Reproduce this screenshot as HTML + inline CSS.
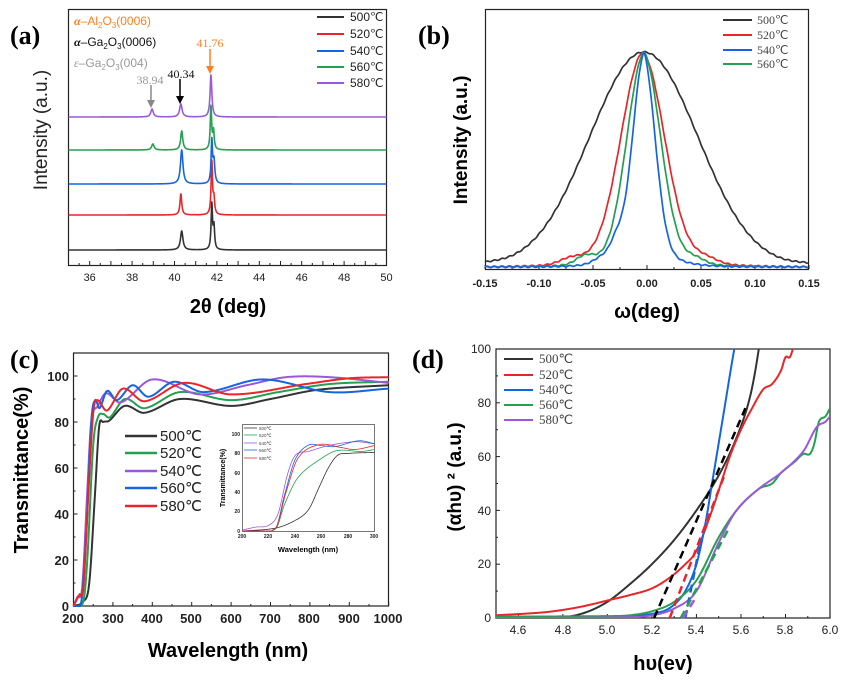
<!DOCTYPE html>
<html><head><meta charset="utf-8"><style>
html,body{margin:0;padding:0;background:#fff;}
svg{display:block;}
.s{font-family:"Liberation Sans",sans-serif;}
.r{font-family:"Liberation Serif",serif;}
</style></head><body>
<svg id="g" width="867" height="692" viewBox="0 0 867 692" xmlns="http://www.w3.org/2000/svg">
<!-- Panel a -->
<text x="10" y="44" class="r" font-size="26" font-weight="bold">(a)</text>
<rect x="68.5" y="9.5" width="318" height="256" fill="none" stroke="#222" stroke-width="1.2"/>
<g class="s" font-size="11" text-anchor="middle" fill="#222">
<text x="89.7" y="281">36</text><text x="132.1" y="281">38</text><text x="174.5" y="281">40</text><text x="216.9" y="281">42</text><text x="259.3" y="281">44</text><text x="301.7" y="281">46</text><text x="344.1" y="281">48</text><text x="386.5" y="281">50</text>
</g>
<text x="228" y="313" class="s" font-size="20" font-weight="bold" text-anchor="middle">2θ (deg)</text>
<text transform="translate(47,130) rotate(-90)" class="s" font-size="19" text-anchor="middle" fill="#222">Intensity (a.u.)</text>
<text x="74" y="25" class="s" font-size="12" fill="#ff8020"><tspan font-family="Liberation Serif" font-style="italic" font-weight="bold">α</tspan>–Al<tspan font-size="8" dy="3">2</tspan><tspan dy="-3">O</tspan><tspan font-size="8" dy="3">3</tspan><tspan dy="-3">(0006)</tspan></text>
<text x="74" y="46" class="s" font-size="12" fill="#111"><tspan font-family="Liberation Serif" font-style="italic" font-weight="bold">α</tspan>–Ga<tspan font-size="8" dy="3">2</tspan><tspan dy="-3">O</tspan><tspan font-size="8" dy="3">3</tspan><tspan dy="-3">(0006)</tspan></text>
<text x="74" y="67" class="s" font-size="12" fill="#999"><tspan font-family="Liberation Serif" font-style="italic">ε</tspan>–Ga<tspan font-size="8" dy="3">2</tspan><tspan dy="-3">O</tspan><tspan font-size="8" dy="3">3</tspan><tspan dy="-3">(004)</tspan></text>
<text x="150" y="84" class="r" font-size="12" fill="#999" text-anchor="middle">38.94</text>
<text x="181" y="78" class="r" font-size="12" fill="#111" text-anchor="middle">40.34</text>
<text x="210" y="47" class="r" font-size="12" fill="#ff8020" text-anchor="middle">41.76</text>
<g stroke-width="1.5"><line x1="151" y1="85" x2="151" y2="103" stroke="#888"/><polygon points="147,100 155,100 151,108" fill="#888"/>
<line x1="180" y1="79" x2="180" y2="99" stroke="#000"/><polygon points="176,96 184,96 180,104" fill="#000"/>
<line x1="210" y1="49" x2="210" y2="69" stroke="#ff8020"/><polygon points="206,66 214,66 210,74" fill="#ff8020"/></g>
<g class="s" font-size="12" fill="#222">
<line x1="317" y1="17" x2="344" y2="17" stroke="#333" stroke-width="2"/><text x="350" y="21">500℃</text>
<line x1="317" y1="34" x2="344" y2="34" stroke="#e8262a" stroke-width="2"/><text x="350" y="38">520℃</text>
<line x1="317" y1="51" x2="344" y2="51" stroke="#1565e0" stroke-width="2"/><text x="350" y="55">540℃</text>
<line x1="317" y1="67" x2="344" y2="67" stroke="#24a050" stroke-width="2"/><text x="350" y="71">560℃</text>
<line x1="317" y1="83" x2="344" y2="83" stroke="#9b59d9" stroke-width="2"/><text x="350" y="87">580℃</text>
</g>
<g id="pa"></g>

<!-- Panel b -->
<rect x="485.5" y="9.5" width="323" height="260" fill="none" stroke="#222" stroke-width="1.2"/>
<text x="418" y="44" class="r" font-size="26" font-weight="bold">(b)</text>
<g class="s" font-size="11" font-weight="bold" text-anchor="middle" fill="#222">
<text x="485" y="287">-0.15</text><text x="539" y="287">-0.10</text><text x="593" y="287">-0.05</text><text x="647" y="287">0.00</text><text x="701" y="287">0.05</text><text x="755" y="287">0.10</text><text x="809" y="287">0.15</text>
</g>
<text x="647" y="318" class="s" font-size="20" font-weight="bold" text-anchor="middle">ω(deg)</text>
<text transform="translate(467,140) rotate(-90)" class="s" font-size="19" font-weight="bold" text-anchor="middle">Intensity (a.u.)</text>
<g class="r" font-size="12" fill="#444">
<line x1="723" y1="20" x2="752" y2="20" stroke="#333" stroke-width="2"/><text x="757" y="24">500℃</text>
<line x1="723" y1="35" x2="752" y2="35" stroke="#e8262a" stroke-width="2"/><text x="757" y="39">520℃</text>
<line x1="723" y1="50" x2="752" y2="50" stroke="#1565e0" stroke-width="2"/><text x="757" y="54">540℃</text>
<line x1="723" y1="64" x2="752" y2="64" stroke="#24a050" stroke-width="2"/><text x="757" y="68">560℃</text>
</g>
<g id="pb"></g>

<!-- Panel c -->
<text x="10" y="368" class="r" font-size="26" font-weight="bold">(c)</text>
<rect x="73.5" y="353" width="315" height="253" fill="none" stroke="#222" stroke-width="1.2"/>
<g class="s" font-size="13" font-weight="bold" text-anchor="end" fill="#222">
<text x="69" y="381">100</text><text x="69" y="427">80</text><text x="69" y="473">60</text><text x="69" y="519">40</text><text x="69" y="565">20</text><text x="69" y="611">0</text>
</g>
<g class="s" font-size="13" font-weight="bold" text-anchor="middle" fill="#222">
<text x="73" y="623">200</text><text x="113" y="623">300</text><text x="152" y="623">400</text><text x="191" y="623">500</text><text x="231" y="623">600</text><text x="270" y="623">700</text><text x="309" y="623">800</text><text x="349" y="623">900</text><text x="388" y="623">1000</text>
</g>
<text x="228" y="657" class="s" font-size="20" font-weight="bold" text-anchor="middle">Wavelength (nm)</text>
<text transform="translate(28,470) rotate(-90)" class="s" font-size="20" font-weight="bold" text-anchor="middle">Transmittance(%)</text>
<g class="s" font-size="15" fill="#222">
<line x1="125" y1="436" x2="157" y2="436" stroke="#333" stroke-width="2.5"/><text x="160" y="441">500℃</text>
<line x1="125" y1="453" x2="157" y2="453" stroke="#24a050" stroke-width="2.5"/><text x="160" y="458">520℃</text>
<line x1="125" y1="471" x2="157" y2="471" stroke="#9b59d9" stroke-width="2.5"/><text x="160" y="476">540℃</text>
<line x1="125" y1="488" x2="157" y2="488" stroke="#1565e0" stroke-width="2.5"/><text x="160" y="493">560℃</text>
<line x1="125" y1="506" x2="157" y2="506" stroke="#e8262a" stroke-width="2.5"/><text x="160" y="511">580℃</text>
</g>
<rect x="242.5" y="424.5" width="132" height="107" fill="#fff" stroke="#555" stroke-width="0.8"/>
<g class="s" font-size="5" font-weight="bold" text-anchor="end" fill="#222">
<text x="240" y="436">100</text><text x="240" y="455">80</text><text x="240" y="475">60</text><text x="240" y="494">40</text><text x="240" y="513">20</text><text x="240" y="533">0</text>
</g>
<g class="s" font-size="5" font-weight="bold" text-anchor="middle" fill="#222">
<text x="242" y="538">200</text><text x="268" y="538">220</text><text x="295" y="538">240</text><text x="321" y="538">260</text><text x="348" y="538">280</text><text x="374" y="538">300</text>
</g>
<text x="308" y="552" class="s" font-size="7.5" font-weight="bold" text-anchor="middle">Wavelength (nm)</text>
<text transform="translate(225,478) rotate(-90)" class="s" font-size="7" font-weight="bold" text-anchor="middle">Transmittance(%)</text>
<g class="s" font-size="4.5" fill="#444">
<line x1="244" y1="428" x2="257" y2="428" stroke="#333" stroke-width="0.8"/><text x="259" y="430">500℃</text>
<line x1="244" y1="435" x2="257" y2="435" stroke="#24a050" stroke-width="0.8"/><text x="259" y="437">520℃</text>
<line x1="244" y1="443" x2="257" y2="443" stroke="#9b59d9" stroke-width="0.8"/><text x="259" y="445">540℃</text>
<line x1="244" y1="450" x2="257" y2="450" stroke="#1565e0" stroke-width="0.8"/><text x="259" y="452">560℃</text>
<line x1="244" y1="458" x2="257" y2="458" stroke="#e8262a" stroke-width="0.8"/><text x="259" y="460">580℃</text>
</g>
<g id="pc"></g>

<!-- Panel d -->
<text x="412" y="368" class="r" font-size="26" font-weight="bold">(d)</text>
<rect x="496" y="349" width="334" height="269" fill="none" stroke="#222" stroke-width="1.2"/>
<g class="s" font-size="12" text-anchor="end" fill="#222">
<text x="491" y="353">100</text><text x="491" y="407">80</text><text x="491" y="461">60</text><text x="491" y="515">40</text><text x="491" y="568">20</text><text x="491" y="622">0</text>
</g>
<g class="s" font-size="12" text-anchor="middle" fill="#222">
<text x="518" y="634">4.6</text><text x="563" y="634">4.8</text><text x="607" y="634">5.0</text><text x="652" y="634">5.2</text><text x="696" y="634">5.4</text><text x="741" y="634">5.6</text><text x="785" y="634">5.8</text><text x="830" y="634">6.0</text>
</g>
<text x="663" y="670" class="s" font-size="20" font-weight="bold" text-anchor="middle">hυ(ev)</text>
<text transform="translate(461,477) rotate(-90)" class="s" font-size="19" font-weight="bold" text-anchor="middle">(αhυ) ² (a.u.)</text>
<g class="r" font-size="13" fill="#444">
<line x1="504" y1="359" x2="533" y2="359" stroke="#333" stroke-width="2"/><text x="539" y="363">500℃</text>
<line x1="504" y1="375" x2="533" y2="375" stroke="#e8262a" stroke-width="2"/><text x="539" y="379">520℃</text>
<line x1="504" y1="390" x2="533" y2="390" stroke="#1565e0" stroke-width="2"/><text x="539" y="394">540℃</text>
<line x1="504" y1="405" x2="533" y2="405" stroke="#24a050" stroke-width="2"/><text x="539" y="409">560℃</text>
<line x1="504" y1="420" x2="533" y2="420" stroke="#9b59d9" stroke-width="2"/><text x="539" y="424">580℃</text>
</g>
<g id="pd"></g>
</svg>
<script>
var NS="http://www.w3.org/2000/svg";
function path(g,pts,col,w,dash,clip){var p=document.createElementNS(NS,"path");var d="";
pts.forEach(function(q,i){d+=(i?"L":"M")+q[0].toFixed(2)+","+q[1].toFixed(2);});
p.setAttribute("d",d);p.setAttribute("fill","none");p.setAttribute("stroke",col);p.setAttribute("stroke-width",w);
p.setAttribute("stroke-linejoin","round");if(dash)p.setAttribute("stroke-dasharray",dash);if(clip)p.setAttribute("clip-path",clip);
document.getElementById(g).appendChild(p);}
function line(g,x1,y1,x2,y2,w){var l=document.createElementNS(NS,"line");l.setAttribute("x1",x1);l.setAttribute("y1",y1);l.setAttribute("x2",x2);l.setAttribute("y2",y2);l.setAttribute("stroke","#222");l.setAttribute("stroke-width",w||1);document.getElementById(g).appendChild(l);}
function interp(k,x){if(x<=k[0][0])return k[0][1];for(var i=0;i<k.length-1;i++){if(x<=k[i+1][0]){var p0=k[Math.max(0,i-1)],p1=k[i],p2=k[i+1],p3=k[Math.min(k.length-1,i+2)];var t=(x-p1[0])/(p2[0]-p1[0]);
var m1=(p2[1]-p0[1])/(p2[0]-p0[0])*(p2[0]-p1[0]),m2=(p3[1]-p1[1])/(p3[0]-p1[0])*(p2[0]-p1[0]);
var t2=t*t,t3=t2*t;return (2*t3-3*t2+1)*p1[1]+(t3-2*t2+t)*m1+(-2*t3+3*t2)*p2[1]+(t3-t2)*m2;}}return k[k.length-1][1];}
// Panel a
var ax=function(v){return 68.5+(v-35)*21.2;};
for(var v=35;v<=50;v+=0.5){line("pa",ax(v),265,ax(v),265-(v%1==0?4:2),1);}
function pk(x,c,h,w){return h/(1+Math.pow((x-c)/w,2));}
var A=[["#333",250,[[40.34,19,0.07],[41.76,45,0.04],[41.86,22,0.04]]],
["#e8262a",215,[[40.3,21,0.05],[41.76,53,0.04],[41.86,15,0.04]]],
["#1565e0",184,[[40.34,34,0.07],[41.76,42,0.04],[41.86,22,0.05]]],
["#24a050",150,[[38.98,6,0.07],[40.34,19,0.06],[41.72,43,0.04],[41.84,18,0.04]]],
["#9b59d9",117,[[38.94,8,0.07],[40.3,13,0.07],[41.72,42,0.05]]]];
A.forEach(function(s){var pts=[];for(var x=35;x<=50;x+=0.01){var y=s[1];s[2].forEach(function(p){y-=pk(x,p[0],p[1],p[2]);});pts.push([ax(x),y]);}path("pa",pts,s[0],1.6);});
// Panel b
var bx=function(v){return 647+v*1080;};
for(var v=-0.15;v<=0.151;v+=0.025){line("pb",bx(v),269,bx(v),269-(Math.abs(Math.round(v*1000)%50)<1?4:2),1);}
function B(x,c,f,gm,bumps){var s=f/2.355;var g=Math.exp(-Math.pow(x-c,2)/(2*s*s));var tau=f/1.386;var l=Math.exp(-Math.abs(x-c)/tau);var y=gm*g+(1-gm)*l;bumps.forEach(function(b){y+=b[1]*Math.exp(-Math.pow((x-b[0])/b[2],2));});return 267-215*y;}
var Bs=[["#333",-0.003,0.118,1,[[-0.15,0.01,0.02],[0.15,0.01,0.02]]],
["#e8262a",-0.004,0.048,0.9,[[-0.07,0.03,0.015],[0.055,0.025,0.015]]],
["#24a050",-0.003,0.037,0.88,[[-0.057,0.04,0.012],[0.045,0.025,0.012]]],
["#1565e0",-0.003,0.025,0.8,[[-0.04,0.03,0.012],[-0.028,0.07,0.008]]]];
Bs.forEach(function(s){var pts=[];for(var x=-0.15;x<=0.15;x+=0.001){var y=B(x,s[1],s[2],s[3],s[4]);y+=Math.sin(x*900)*0.6;pts.push([bx(x),Math.min(268,y)]);}path("pb",pts,s[0],1.7);});
// Panel c
var cx=function(v){return 73.5+(v-200)*0.394;},cy=function(v){return 606-v*2.3;};
for(var v=200;v<=1000;v+=50){line("pc",cx(v),606,cx(v),606-(v%100==0?4:2),1);}
for(var v=0;v<=110;v+=10){line("pc",73.5,cy(v),73.5+(v%20==0?4:2),cy(v),1);}
var C=[["#333",[[200,0],[225,2],[240,10],[255,50],[265,78],[275,80],[290,80.5],[330,87],[380,84],[470,90],[600,87],[700,90],[820,94],[1000,96]]],
["#24a050",[[200,0],[225,2],[235,20],[250,70],[262,82],[275,83.5],[292,82],[330,90],[380,86],[470,93],[600,89.5],[720,93],[850,96.5],[1000,97.5]]],
["#9b59d9",[[200,0],[210,4],[222,8],[235,50],[245,80],[262,87],[282,92.5],[320,88.5],[400,98.5],[520,92],[640,96],[740,99.5],[850,99.5],[1000,97]]],
["#1565e0",[[200,0],[220,2],[232,30],[245,80],[255,89.5],[266,86],[285,93.5],[310,89.5],[350,96],[390,91],[455,97.5],[530,93],[680,98.5],[850,93],[1000,94.5]]],
["#e8262a",[[200,0],[215,5],[225,8],[238,50],[250,84],[260,89.5],[285,85],[325,94.5],[380,89],[480,97],[600,92],[790,96.5],[900,99],[1000,99.5]]]];
C.forEach(function(s){var pts=[];for(var x=200;x<=1000;x+=2){pts.push([cx(x),Math.min(606,cy(interp(s[1],x)))]);}path("pc",pts,s[0],2);});
var ix=function(v){return 242.5+(v-200)*1.32;},iy=function(v){return 531-v*0.97;};
var I=[["#333",[[200,0],[225,3],[240,11],[250,22],[258,45],[265,65],[272,78],[280,80],[300,81]]],
["#24a050",[[200,0],[225,2],[232,28],[242,55],[260,75],[272,83],[290,82],[300,84]]],
["#9b59d9",[[200,1],[210,4],[220,6],[227,18],[234,58],[240,78],[250,82],[265,88],[285,92],[300,90]]],
["#1565e0",[[200,0],[225,3],[232,38],[240,74],[250,88.5],[260,88],[270,87],[288,93],[300,90]]],
["#e8262a",[[200,0],[225,3],[233,40],[242,75],[258,89],[275,86],[285,84],[300,88]]]];
I.forEach(function(s){var pts=[];for(var x=200;x<=300;x+=0.5){pts.push([ix(x),Math.min(531,iy(interp(s[1],x)))]);}path("pc",pts,s[0],0.8);});
// Panel d
var dx=function(v){return 496+(v-4.5)*222.7;},dy=function(v){return 618-v*2.69;};
for(var v=4.5;v<=6.001;v+=0.1){line("pd",dx(v),618,dx(v),618-(Math.round(v*10)%2==0?4:2),1);}
for(var v=0;v<=100;v+=10){line("pd",496,dy(v),496+(v%20==0?4:2),dy(v),1);}
var D=[["#333",[[4.5,0],[4.8,0.3],[4.9,2],[5.0,6],[5.1,12.5],[5.2,20],[5.3,29],[5.4,40],[5.5,53],[5.58,67],[5.64,82],[5.68,100],[5.7,115]]],
["#e8262a",[[4.5,1],[4.7,2],[4.8,3],[4.9,4.5],[5.0,6.5],[5.1,8.5],[5.2,11],[5.28,15],[5.35,20],[5.4,25],[5.47,40],[5.55,60],[5.6,70],[5.65,78],[5.7,85],[5.74,87],[5.78,92],[5.8,97],[5.82,97],[5.84,102]]],
["#1565e0",[[4.5,0],[5.0,0.3],[5.15,1],[5.25,2.5],[5.3,5],[5.35,10],[5.4,20],[5.44,35],[5.47,50],[5.52,75],[5.57,100],[5.6,112]]],
["#24a050",[[4.5,0.5],[5.0,0.7],[5.1,1],[5.2,2.5],[5.3,6],[5.4,14],[5.5,30],[5.58,40],[5.68,48],[5.74,50],[5.78,54],[5.84,58],[5.88,61],[5.91,61],[5.93,65],[5.95,73],[5.98,75],[6.0,78]]],
["#9b59d9",[[4.5,0],[5.1,0.3],[5.2,1],[5.3,3.5],[5.4,10],[5.5,28],[5.58,40],[5.68,48],[5.78,54],[5.88,62],[5.94,71],[5.98,73],[6.0,75]]]];
var cp=document.createElementNS(NS,"clipPath");cp.setAttribute("id","cd");var rr=document.createElementNS(NS,"rect");rr.setAttribute("x",496);rr.setAttribute("y",349);rr.setAttribute("width",334);rr.setAttribute("height",269);cp.appendChild(rr);document.getElementById("g").appendChild(cp);
D.forEach(function(s){var pts=[];for(var x=4.5;x<=6.0;x+=0.005){pts.push([dx(x),dy(interp(s[1],x))]);}path("pd",pts,s[0],2,null,"url(#cd)");});
var DD=[["#000",5.21,0,5.62,78],["#e8262a",5.28,0,5.53,54],["#1565e0",5.35,0,5.42,29],["#24a050",5.33,0,5.55,34],["#9b59d9",5.34,0,5.4,8]];
DD.forEach(function(s){path("pd",[[dx(s[1]),dy(s[2])],[dx(s[3]),dy(s[4])]],s[0],2.5,"8,5");});
</script>
</body></html>
